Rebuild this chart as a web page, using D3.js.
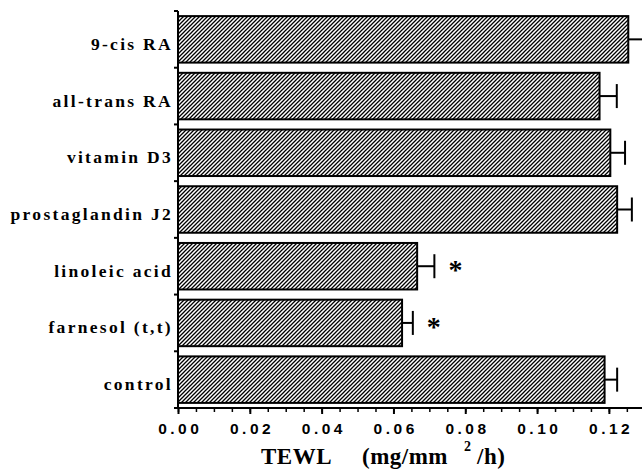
<!DOCTYPE html>
<html>
<head>
<meta charset="utf-8">
<script src="https://cdn.jsdelivr.net/npm/d3@7"></script>
<style>
  html, body { margin: 0; padding: 0; background: #fff; }
  svg { display: block; }
</style>
</head>
<body>
<svg id="chart" width="642" height="469"></svg>
<script>
const categories = ["9-cis RA", "all-trans RA", "vitamin D3", "prostaglandin J2", "linoleic acid", "farnesol (t,t)", "control"];
const values = [0.1254, 0.1174, 0.1204, 0.1223, 0.0666, 0.0624, 0.1188];
const errors = [0.0050, 0.0048, 0.0041, 0.0041, 0.0048, 0.0030, 0.0035];
const significant = [false, false, false, false, true, true, false];
const tickValues = [0, 0.02, 0.04, 0.06, 0.08, 0.10, 0.12];
const minorTickValues = d3.range(0, 0.1275, 0.005);

const SERIF = '"Liberation Serif"';
const SANS = '"Liberation Sans"';

const svg = d3.select("#chart");

// pattern: diagonal hatch "/" with 4px horizontal period
const defs = svg.append("defs");
const pat = defs.append("pattern")
  .attr("id", "hatch")
  .attr("patternUnits", "userSpaceOnUse")
  .attr("width", 4).attr("height", 4);
pat.append("rect").attr("width", 4).attr("height", 4).attr("fill", "#fff");
pat.append("path").attr("d", "M-1,1 L1,-1 M0,4 L4,0 M3,5 L5,3")
  .attr("stroke", "#000").attr("stroke-width", 1.3).attr("stroke-linecap", "square");

const x = d3.scaleLinear().domain([0, 0.1295]).range([178, 643]);
const y = d3.scaleBand().domain(categories).range([11, 408]).paddingInner(0.18).paddingOuter(0.09);

// bars
svg.append("g").selectAll("rect").data(categories).join("rect")
  .attr("x", x(0))
  .attr("y", d => y(d))
  .attr("width", (d, i) => x(values[i]) - x(0))
  .attr("height", y.bandwidth())
  .attr("fill", "url(#hatch)")
  .attr("stroke", "#000")
  .attr("stroke-width", 2);

// error bars
const eg = svg.append("g").attr("stroke", "#000").attr("stroke-width", 2);
categories.forEach((c, i) => {
  const cy = y(c) + y.bandwidth() / 2;
  eg.append("line").attr("x1", x(values[i])).attr("x2", x(values[i] + errors[i]))
    .attr("y1", cy).attr("y2", cy);
  eg.append("line").attr("x1", x(values[i] + errors[i])).attr("x2", x(values[i] + errors[i]))
    .attr("y1", cy - 12).attr("y2", cy + 12);
});

// asterisks
svg.append("g").selectAll("text").data(categories.filter((c, i) => significant[i])).join("text")
  .attr("x", c => { const i = categories.indexOf(c); return x(values[i] + errors[i]) + 21; })
  .attr("y", c => y(c) + y.bandwidth() / 2 + 13)
  .attr("text-anchor", "middle")
  .style("font-family", SERIF)
  .style("font-weight", "bold")
  .style("font-size", "28px")
  .text("*");

// y axis line and ticks
const yAxisG = svg.append("g").attr("stroke", "#000").attr("stroke-width", 2);
yAxisG.append("line").attr("x1", x(0)).attr("x2", x(0)).attr("y1", 11).attr("y2", 409);
const bounds = categories.map(c => y(c) - y.step() * y.paddingInner() / 2);
bounds.push(408);
yAxisG.selectAll("line.t").data(bounds).join("line").attr("class", "t")
  .attr("x1", x(0) - 4).attr("x2", x(0)).attr("y1", d => d).attr("y2", d => d);

// category labels
svg.append("g").selectAll("text").data(categories).join("text")
  .attr("x", 173)
  .attr("y", d => y(d) + y.bandwidth() / 2 + 10.5)
  .attr("text-anchor", "end")
  .style("font-family", SERIF)
  .style("font-weight", "bold")
  .style("font-size", "17.5px")
  .style("letter-spacing", "2.3px")
  .text(d => d);

// x axis
const xAxisG = svg.append("g").attr("transform", "translate(0,408)");
xAxisG.append("line").attr("x1", x(0) - 1).attr("x2", 642).attr("y1", 0).attr("y2", 0)
  .attr("stroke", "#000").attr("stroke-width", 2);
const minorAxis = d3.axisBottom(x).tickValues(minorTickValues).tickSize(4).tickFormat("");
const mg = xAxisG.append("g").call(minorAxis);
mg.select(".domain").remove();
mg.selectAll("line").attr("stroke-width", 1.5);
const majorAxis = d3.axisBottom(x).tickValues(tickValues).tickSize(6).tickPadding(9).tickFormat(d3.format(".2f"));
const ag = xAxisG.append("g").call(majorAxis);
ag.select(".domain").remove();
ag.selectAll("line").attr("stroke-width", 2);
ag.selectAll("text")
  .style("font-family", SANS)
  .style("font-weight", "bold")
  .style("font-size", "15.5px")
  .style("letter-spacing", "3.5px")
  .attr("dx", "1.75px")
  .attr("fill", "#000");

// x title
const title = svg.append("text")
  .attr("x", 261).attr("y", 464)
  .style("font-family", SERIF)
  .style("font-weight", "bold")
  .style("font-size", "23px")
  .style("letter-spacing", "0.5px");
title.append("tspan").text("TEWL");
title.append("tspan").attr("x", 362).text("(mg/mm");
title.append("tspan").attr("x", 464).attr("dy", -13).style("font-size", "14px").text("2");
title.append("tspan").attr("x", 477).attr("dy", 13).text("/h)");
</script>
</body>
</html>
